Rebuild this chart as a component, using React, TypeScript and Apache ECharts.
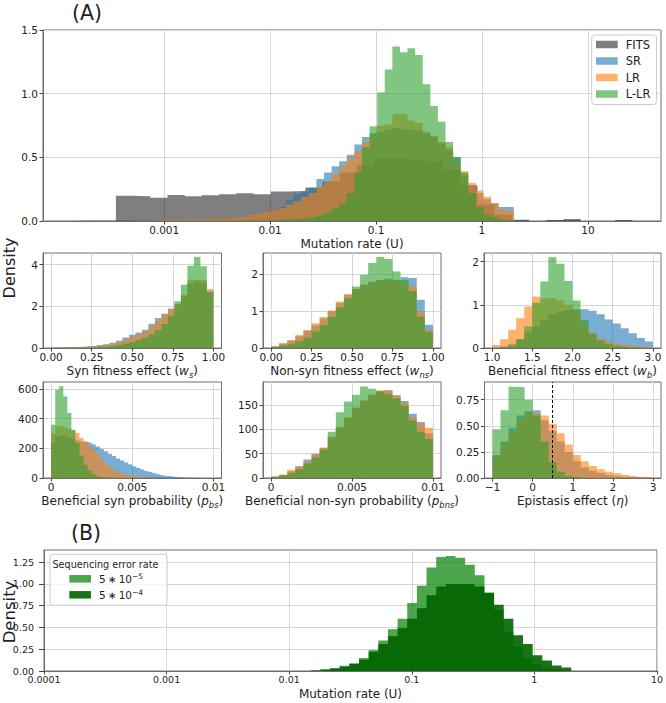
import React, { useEffect, useRef } from 'react';
import * as echarts from 'echarts';

const FONT = 'DejaVu Sans';
const INK = '#1e1e1e';
const FRAME = '#6e6e6e';
const GRIDC = '#d6d6d6';

// colours
const C_FITS = 'rgba(0,0,0,0.5)';
const C_SR = 'rgba(31,119,180,0.6)';
const C_LR = 'rgba(255,127,14,0.6)';
const C_LLR = 'rgba(44,160,44,0.6)';
const C_B5 = 'rgba(0,128,0,0.7)';
const C_B4 = 'rgba(0,100,0,0.9)';

// ---------- (A) main panel: mutation rate U (log bins) ----------
const A_BIN_LO = 1e-4;
const A_BIN_HI = 2;
const A_SR = [
  0, 0, 0.002, 0.003, 0.003, 0.003, 0.003, 0.003, 0.002, 0.002,
  0.003, 0.004, 0.005, 0.005, 0.006, 0.007, 0.008, 0.01, 0.012, 0.014,
  0.016, 0.02, 0.025, 0.03, 0.035, 0.04, 0.05, 0.06, 0.08, 0.11,
  0.165, 0.21, 0.23, 0.26, 0.33, 0.38, 0.43, 0.47, 0.52, 0.6,
  0.66, 0.69, 0.7, 0.72, 0.73, 0.72, 0.72, 0.71, 0.69, 0.66,
  0.61, 0.56, 0.5, 0.36, 0.28, 0.22, 0.17, 0.14, 0.11, 0.11,
];
const A_LR = [
  0, 0.002, 0.003, 0.003, 0.002, 0.002, 0.002, 0.002, 0.002, 0.003,
  0.003, 0.004, 0.005, 0.006, 0.007, 0.008, 0.009, 0.011, 0.013, 0.015,
  0.018, 0.02, 0.024, 0.03, 0.035, 0.045, 0.055, 0.07, 0.085, 0.1,
  0.13, 0.155, 0.19, 0.22, 0.27, 0.31, 0.37, 0.43, 0.49, 0.55,
  0.62, 0.68, 0.75, 0.76, 0.84, 0.84, 0.79, 0.77, 0.7, 0.67,
  0.62, 0.58, 0.46, 0.39, 0.3, 0.24, 0.19, 0.14, 0.09, 0.08,
];
const A_LLR = [
  0, 0, 0, 0, 0, 0, 0, 0, 0, 0,
  0, 0, 0, 0, 0, 0, 0, 0, 0, 0,
  0.001, 0.002, 0.002, 0.003, 0.004, 0.005, 0.006, 0.008, 0.01, 0.012,
  0.015, 0.018, 0.022, 0.03, 0.045, 0.065, 0.1, 0.14, 0.22, 0.38,
  0.58, 0.745, 1.01, 1.19, 1.37, 1.325, 1.357, 1.304, 1.074, 0.904,
  0.78, 0.62, 0.5, 0.38, 0.22, 0.11, 0.05, 0.03, 0.01, 0.005,
];
const FITS_BIN_LO = 3.5e-4;
const FITS_BIN_HI = 26.3;
const A_FITS = [
  0.199, 0.194, 0.183, 0.204, 0.194, 0.202, 0.21, 0.218, 0.21, 0.231,
  0.235, 0.263, 0.31, 0.38, 0.44, 0.49, 0.49, 0.48, 0.47, 0.4,
  0.28, 0.13, 0.05, 0.01, 0, 0.007, 0.016, 0, 0, 0.008,
];

// ---------- small panels ----------
const P1_RANGE = [0, 1];
const P1_SR = [0.02, 0.03, 0.04, 0.05, 0.06, 0.08, 0.1, 0.14, 0.18, 0.25, 0.35, 0.5, 0.64, 0.75, 0.88, 1.17, 1.44, 1.65, 1.9, 2.1, 2.5, 3.1, 3.2, 3.1, 2.75];
const P1_LR = [0.02, 0.03, 0.03, 0.04, 0.05, 0.07, 0.09, 0.12, 0.16, 0.22, 0.3, 0.42, 0.55, 0.66, 0.8, 1.05, 1.3, 1.6, 1.85, 2.08, 2.56, 3.28, 3.28, 3.25, 2.83];
const P1_LLR = [0.005, 0.01, 0.01, 0.015, 0.02, 0.03, 0.04, 0.05, 0.07, 0.1, 0.14, 0.2, 0.28, 0.38, 0.5, 0.65, 0.85, 1.15, 1.55, 2.24, 3.04, 3.95, 4.37, 3.92, 2.67];

const P2_RANGE = [0, 1];
const P2_SR = [0.05, 0.12, 0.2, 0.32, 0.47, 0.62, 0.8, 1.0, 1.22, 1.45, 1.6, 1.72, 1.8, 1.85, 1.88, 1.85, 1.92, 1.9, 1.31, 0.63];
const P2_LR = [0.05, 0.13, 0.22, 0.35, 0.49, 0.67, 0.84, 1.02, 1.26, 1.45, 1.6, 1.7, 1.78, 1.85, 1.85, 1.82, 1.78, 1.67, 0.99, 0.5];
const P2_LLR = [0.03, 0.06, 0.1, 0.18, 0.28, 0.45, 0.62, 0.85, 1.1, 1.35, 1.67, 1.99, 2.31, 2.47, 2.42, 2.08, 1.85, 1.55, 0.85, 0.45];

const P3_RANGE = [1, 3];
const P3_SR = [0.01, 0.04, 0.1, 0.2, 0.35, 0.5, 0.65, 0.78, 0.85, 0.88, 0.9, 0.9, 0.86, 0.78, 0.66, 0.57, 0.46, 0.34, 0.23, 0.15];
const P3_LR = [0.07, 0.2, 0.42, 0.69, 0.96, 1.19, 1.15, 1.15, 1.1, 1.0, 0.85, 0.55, 0.35, 0.22, 0.15, 0.1, 0.07, 0.05, 0.03, 0.02];
const P3_LLR = [0, 0.02, 0.05, 0.2, 0.5, 1.05, 1.54, 2.1, 1.95, 1.55, 1.1, 0.65, 0.33, 0.18, 0.1, 0.05, 0.03, 0.01, 0, 0];

const P4_RANGE = [0, 0.01];
const P4_SR = [240, 280, 290, 285, 275, 265, 255, 248, 242, 238, 228, 212, 196, 180, 164, 148, 132, 118, 104, 92, 80, 68, 58, 48, 40, 32, 25, 19, 14, 10, 7, 5, 3, 2, 1, 0.5, 0, 0, 0, 0];
const P4_LR = [300, 348, 350, 340, 332, 320, 305, 270, 247, 215, 190, 160, 130, 100, 75, 55, 40, 28, 20, 14, 10, 7, 5, 3, 2, 1, 0.5, 0, 0, 0, 0, 0, 0, 0, 0, 0, 0, 0, 0, 0];
const P4_LLR = [359, 595, 618, 550, 438, 326, 238, 150, 90, 50, 25, 12, 6, 3, 1, 0, 0, 0, 0, 0, 0, 0, 0, 0, 0, 0, 0, 0, 0, 0, 0, 0, 0, 0, 0, 0, 0, 0, 0, 0];

const P5_RANGE = [0, 0.01];
const P5_SR = [3, 6, 14, 24, 38, 50, 62, 83, 103, 123, 143, 158, 170, 178, 180, 170, 158, 132, 115, 92];
const P5_LR = [3, 7, 17, 24, 34, 48, 62, 85, 105, 125, 145, 160, 172, 180, 180, 170, 155, 125, 112, 103];
const P5_LLR = [2, 5, 10, 18, 30, 42, 58, 95, 135, 157, 171, 188, 183, 178, 172, 163, 148, 118, 95, 80];

const P6_RANGE = [-1, 3];
const P6_SR = [0.22, 0.35, 0.48, 0.6, 0.64, 0.65, 0.55, 0.45, 0.35, 0.25, 0.16, 0.1, 0.07, 0.05, 0.03, 0.02, 0.012, 0.008, 0.005, 0.003];
const P6_LR = [0.2, 0.33, 0.44, 0.56, 0.63, 0.62, 0.6, 0.52, 0.43, 0.32, 0.22, 0.16, 0.115, 0.083, 0.06, 0.045, 0.03, 0.02, 0.012, 0.008];
const P6_LLR = [0.466, 0.65, 0.875, 0.87, 0.75, 0.6, 0.35, 0.15, 0.06, 0.02, 0.01, 0, 0, 0, 0, 0, 0, 0, 0, 0];
const ETA_REF = 0.5;

// ---------- (B) sequencing error ----------
const B_BIN_LO = 0.015;
const B_BIN_HI = 2;
const B_E5 = [0.005, 0.02, 0.035, 0.06, 0.09, 0.15, 0.24, 0.35, 0.48, 0.6, 0.78, 0.98, 1.19, 1.31, 1.32, 1.3, 1.22, 1.1, 0.9, 0.7, 0.45, 0.28, 0.15, 0.08, 0.04, 0.02, 0.01];
const B_E4 = [0.005, 0.015, 0.026, 0.05, 0.08, 0.13, 0.22, 0.31, 0.4, 0.49, 0.6, 0.72, 0.87, 0.97, 1.0, 1.0, 1.0, 0.97, 0.9, 0.76, 0.6, 0.41, 0.31, 0.18, 0.12, 0.064, 0.04];

// tick labels
const A_XTICKS = [0.001, 0.01, 0.1, 1, 10];
const B_XTICKS = [0.0001, 0.001, 0.01, 0.1, 1, 10];

const edgesLog = (lo: number, hi: number, n: number) =>
  Array.from({ length: n + 1 }, (_, i) => Math.pow(10, Math.log10(lo) + ((Math.log10(hi) - Math.log10(lo)) * i) / n));
const edgesLin = (lo: number, hi: number, n: number) =>
  Array.from({ length: n + 1 }, (_, i) => lo + ((hi - lo) * i) / n);

function hist(name: string, gi: number, edges: number[], h: number[], color: string, extra: any = {}) {
  const data: number[][] = h.map((v, i) => [edges[i], v]);
  data.push([edges[h.length], 0]);
  return {
    type: 'line', name, xAxisIndex: gi, yAxisIndex: gi, step: 'end', data,
    symbol: 'none', showSymbol: false, silent: true, color,
    itemStyle: { color },
    lineStyle: { width: 0, opacity: 0 },
    areaStyle: { color, opacity: 1 },
    emphasis: { disabled: true },
    ...extra,
  };
}

const sub = (fs: number) => ({
  w: { fontStyle: 'italic', fontSize: fs, lineHeight: 16, fontFamily: FONT, color: INK },
  s: { fontStyle: 'italic', fontSize: fs * 0.7, lineHeight: fs * 0.7, verticalAlign: 'bottom', fontFamily: FONT, color: INK },
});

function xAx(gi: number, o: any) {
  return {
    gridIndex: gi, type: o.type || 'value', min: o.min, max: o.max,
    name: o.name, nameLocation: 'middle', nameGap: o.nameGap,
    nameTextStyle: { fontSize: o.nfs || 12, fontFamily: FONT, color: INK, lineHeight: 16, rich: sub(o.nfs || 12) },
    axisLine: { show: true, onZero: false, lineStyle: { color: FRAME, width: 1 } },
    axisTick: { show: true, length: o.tl ?? 3.5, lineStyle: { color: '#444' }, customValues: o.ticks },
    axisLabel: { customValues: o.ticks, formatter: o.fmt, fontSize: o.fs ?? 10.5, color: INK, fontFamily: FONT, margin: o.margin ?? 3, hideOverlap: false },
    splitLine: { show: true, lineStyle: { color: GRIDC, width: 1 } },
  };
}
function yAx(gi: number, o: any) {
  return {
    gridIndex: gi, type: 'value', min: 0, max: o.max,
    axisLine: { show: true, onZero: false, lineStyle: { color: FRAME, width: 1 } },
    axisTick: { show: true, length: o.tl ?? 3.5, lineStyle: { color: '#444' }, customValues: o.ticks },
    axisLabel: { customValues: o.ticks, formatter: o.fmt, fontSize: o.fs ?? 10.5, color: INK, fontFamily: FONT, margin: o.margin ?? 5, hideOverlap: false },
    splitLine: { show: true, lineStyle: { color: GRIDC, width: 1 } },
  };
}

const fmtNum = (v: number) => String(+Number(v).toPrecision(6));
const fmtMinus = (v: number) => (v < 0 ? '\u2212' + Math.abs(v) : String(v));

function buildOption() {
  const grids = [
    { left: 43, top: 30, width: 618, height: 191 },
    { left: 43, top: 253, width: 178.5, height: 95 },
    { left: 263, top: 253, width: 178, height: 95 },
    { left: 484, top: 253, width: 177, height: 95 },
    { left: 43, top: 382, width: 178.5, height: 96 },
    { left: 263, top: 382, width: 178, height: 96 },
    { left: 484.5, top: 382, width: 176.5, height: 96 },
    { left: 44, top: 550, width: 617, height: 124 },
  ].map((g) => ({ ...g, show: true, borderColor: FRAME, borderWidth: 1, backgroundColor: 'rgba(0,0,0,0)' }));

  const aE = edgesLog(A_BIN_LO, A_BIN_HI, A_SR.length);
  const fE = edgesLog(FITS_BIN_LO, FITS_BIN_HI, A_FITS.length);
  const bE = edgesLog(B_BIN_LO, B_BIN_HI, B_E5.length);
  const e1 = edgesLin(P1_RANGE[0], P1_RANGE[1], P1_SR.length);
  const e2 = edgesLin(P2_RANGE[0], P2_RANGE[1], P2_SR.length);
  const e3 = edgesLin(P3_RANGE[0], P3_RANGE[1], P3_SR.length);
  const e4 = edgesLin(P4_RANGE[0], P4_RANGE[1], P4_SR.length);
  const e5 = edgesLin(P5_RANGE[0], P5_RANGE[1], P5_SR.length);
  const e6 = edgesLin(P6_RANGE[0], P6_RANGE[1], P6_SR.length);

  const f2 = (v: number) => Number(v).toFixed(2);
  const f1 = (v: number) => Number(v).toFixed(1);

  const xAxis = [
    xAx(0, { type: 'log', min: 7.18e-5, max: 49, ticks: A_XTICKS, fmt: fmtNum, name: 'Mutation rate (U)', nameGap: 15 }),
    xAx(1, { min: -0.05, max: 1.05, ticks: [0, 0.25, 0.5, 0.75, 1], fmt: f2, name: 'Syn fitness effect ({w|w}{s|s})', nameGap: 15 }),
    xAx(2, { min: -0.05, max: 1.05, ticks: [0, 0.25, 0.5, 0.75, 1], fmt: f2, name: 'Non-syn fitness effect ({w|w}{s|ns})', nameGap: 15 }),
    xAx(3, { min: 0.9, max: 3.1, ticks: [1, 1.5, 2, 2.5, 3], fmt: f1, name: 'Beneficial fitness effect ({w|w}{s|b})', nameGap: 15 }),
    xAx(4, { min: -0.0005, max: 0.0105, ticks: [0, 0.005, 0.01], fmt: fmtNum, name: 'Beneficial syn probability ({w|p}{s|bs})', nameGap: 14 }),
    xAx(5, { min: -0.0005, max: 0.0105, ticks: [0, 0.005, 0.01], fmt: fmtNum, name: 'Beneficial non-syn probability ({w|p}{s|bns})', nameGap: 14 }),
    xAx(6, { min: -1.2, max: 3.2, ticks: [-1, 0, 1, 2, 3], fmt: fmtMinus, name: 'Epistasis effect ({w|η})', nameGap: 14 }),
    xAx(7, { type: 'log', min: 1e-4, max: 10, ticks: B_XTICKS, fmt: fmtNum, name: 'Mutation rate (U)', nameGap: 15, fs: 9.5 }),
  ];
  const yAxis = [
    yAx(0, { max: 1.5, ticks: [0, 0.5, 1, 1.5], fmt: f1 }),
    yAx(1, { max: 4.56, ticks: [0, 2, 4], fmt: fmtNum }),
    yAx(2, { max: 2.58, ticks: [0, 1, 2], fmt: fmtNum }),
    yAx(3, { max: 2.2, ticks: [0, 1, 2], fmt: fmtNum }),
    yAx(4, { max: 647, ticks: [0, 200, 400, 600], fmt: fmtNum }),
    yAx(5, { max: 197, ticks: [0, 50, 100, 150], fmt: fmtNum }),
    yAx(6, { max: 0.92, ticks: [0, 0.25, 0.5, 0.75], fmt: f2 }),
    yAx(7, { max: 1.39, ticks: [0, 0.25, 0.5, 0.75, 1, 1.25], fmt: f2, fs: 9.5, margin: 10, tl: 5 }),
  ];

  const series: any[] = [
    hist('FITS', 0, fE, A_FITS, C_FITS),
    hist('SR', 0, aE, A_SR, C_SR),
    hist('LR', 0, aE, A_LR, C_LR),
    hist('L-LR', 0, aE, A_LLR, C_LLR),
    hist('SR p1', 1, e1, P1_SR, C_SR), hist('LR p1', 1, e1, P1_LR, C_LR), hist('L-LR p1', 1, e1, P1_LLR, C_LLR),
    hist('SR p2', 2, e2, P2_SR, C_SR), hist('LR p2', 2, e2, P2_LR, C_LR), hist('L-LR p2', 2, e2, P2_LLR, C_LLR),
    hist('SR p3', 3, e3, P3_SR, C_SR), hist('LR p3', 3, e3, P3_LR, C_LR), hist('L-LR p3', 3, e3, P3_LLR, C_LLR),
    hist('SR p4', 4, e4, P4_SR, C_SR), hist('LR p4', 4, e4, P4_LR, C_LR), hist('L-LR p4', 4, e4, P4_LLR, C_LLR),
    hist('SR p5', 5, e5, P5_SR, C_SR), hist('LR p5', 5, e5, P5_LR, C_LR), hist('L-LR p5', 5, e5, P5_LLR, C_LLR),
    hist('SR p6', 6, e6, P6_SR, C_SR), hist('LR p6', 6, e6, P6_LR, C_LR),
    hist('L-LR p6', 6, e6, P6_LLR, C_LLR, {
      markLine: {
        silent: true, symbol: 'none', label: { show: false },
        lineStyle: { color: '#000', type: [3, 2], width: 1 },
        data: [{ xAxis: ETA_REF }],
      },
    }),
    hist('5e-5', 7, bE, B_E5, C_B5),
    hist('5e-4', 7, bE, B_E4, C_B4),
  ];

  const legendCommon = {
    orient: 'vertical', icon: 'rect', selectedMode: false,
    backgroundColor: 'rgba(255,255,255,0.8)', borderColor: '#cccccc', borderWidth: 1, borderRadius: 3,
    itemWidth: 21.7, itemHeight: 7.5,
  };

  return {
    animation: false,
    backgroundColor: '#ffffff',
    grid: grids,
    xAxis, yAxis, series,
    legend: [
      {
        ...legendCommon,
        left: 591.7, top: 35, itemGap: 2.5, padding: [2.5, 6, 3.5, 4.3],
        data: [
          { name: 'FITS', itemStyle: { color: C_FITS } },
          { name: 'SR', itemStyle: { color: C_SR } },
          { name: 'LR', itemStyle: { color: C_LR } },
          { name: 'L-LR', itemStyle: { color: C_LLR } },
        ],
        textStyle: { fontSize: 11.5, fontFamily: FONT, color: INK, lineHeight: 14, padding: [0, 0, 0, 3] },
      },
      {
        ...legendCommon,
        left: 50, top: 554.3, itemGap: 3, padding: [18, 24, 4, 19.3],
        data: [
          { name: '5e-5', itemStyle: { color: C_B5 } },
          { name: '5e-4', itemStyle: { color: C_B4 } },
        ],
        formatter: (n: string) => (n === '5e-5' ? '5\u2009\u2217\u200910{sup|\u22125}' : '5\u2009\u2217\u200910{sup|\u22124}'),
        textStyle: {
          fontSize: 10.5, fontFamily: FONT, color: INK, lineHeight: 13, padding: [0, 0, 0, 3],
          rich: { sup: { fontSize: 7.5, lineHeight: 7.5, verticalAlign: 'top', fontFamily: FONT, color: INK } },
        },
      },
    ],
    graphic: [
      { type: 'text', x: 87, y: 12.5, style: { text: '(A)', fontSize: 20.5, fontFamily: FONT, fill: INK, align: 'center', verticalAlign: 'middle' } },
      { type: 'text', x: 86, y: 533, style: { text: '(B)', fontSize: 20.5, fontFamily: FONT, fill: INK, align: 'center', verticalAlign: 'middle' } },
      { type: 'text', x: 9, y: 268, rotation: Math.PI / 2, style: { text: 'Density', fontSize: 16, fontFamily: FONT, fill: INK, align: 'center', verticalAlign: 'middle' } },
      { type: 'text', x: 9, y: 612, rotation: Math.PI / 2, style: { text: 'Density', fontSize: 16.5, fontFamily: FONT, fill: INK, align: 'center', verticalAlign: 'middle' } },
      { type: 'text', x: 105.5, y: 564, z: 100, style: { text: 'Sequencing error rate', fontSize: 9.7, fontFamily: FONT, fill: INK, align: 'center', verticalAlign: 'middle' } },
    ],
  };
}

export default function App() {
  const ref = useRef<HTMLDivElement>(null);
  useEffect(() => {
    const chart = echarts.init(ref.current as HTMLDivElement, null, { renderer: 'svg' });
    chart.setOption(buildOption() as any);
    return () => chart.dispose();
  }, []);
  return <div ref={ref} style={{ position: 'absolute', left: 0, top: 0, width: 666, height: 703, background: '#fff' }} />;
}
